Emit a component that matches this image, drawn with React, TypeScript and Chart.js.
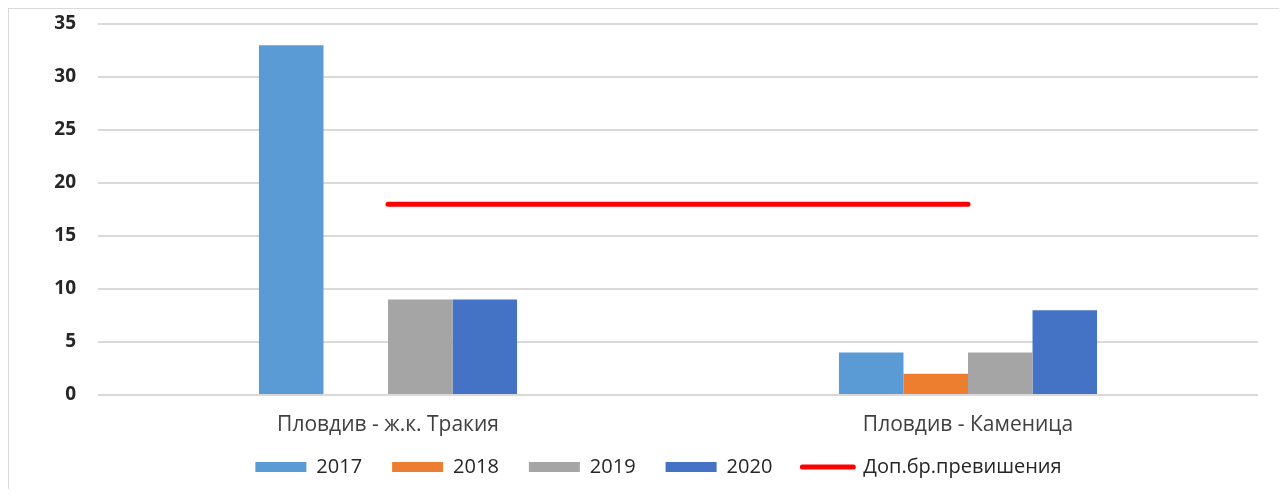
import React, { useEffect, useRef } from "react";
import { Chart, registerables } from "chart.js";

Chart.register(...registerables);

const categories = ["Пловдив - ж.к. Тракия", "Пловдив - Каменица"];
const seriesLabels = ["2017", "2018", "2019", "2020"];
const values2017 = [33, 4];
const values2018 = [null, 2];
const values2019 = [9, 4];
const values2020 = [9, 8];
const limitLabel = "Доп.бр.превишения";
const limitValues = [18, 18];
const yMin = 0;
const yMax = 35;
const yStep = 5;

const barColors = ["#5B9BD5", "#ED7D31", "#A5A5A5", "#4472C4"];
const lineColor = "#FF0000";

const legendShift = {
  id: "legendShift",
  afterLayout(chart: any) {
    const lg = chart.legend;
    if (!lg) return;
    lg.top -= 28;
    lg.bottom -= 28;
    lg.left += 25;
    lg.right += 25;
  },
};

export default function App() {
  const ref = useRef<HTMLCanvasElement | null>(null);

  useEffect(() => {
    document.body.style.overflow = "hidden";
    const canvas = ref.current;
    if (!canvas) return;
    const seriesValues = [values2017, values2018, values2019, values2020];
    const chart = new Chart(canvas, {
      type: "bar",
      data: {
        labels: categories,
        datasets: [
          ...seriesLabels.map((label, i) => ({
            type: "bar" as const,
            label,
            data: seriesValues[i],
            backgroundColor: barColors[i],
            borderWidth: 0,
            categoryPercentage: 0.445,
            barPercentage: 1,
          })),
          {
            type: "line" as const,
            label: limitLabel,
            data: limitValues,
            borderColor: lineColor,
            backgroundColor: lineColor,
            borderWidth: 5,
            borderCapStyle: "round",
            pointRadius: 0,
            pointHoverRadius: 0,
            fill: false,
          },
        ],
      },
      plugins: [legendShift],
      options: {
        responsive: false,
        animation: false,
        events: [],
        layout: { padding: { top: 15, right: 29, bottom: -18, left: 0 } },
        scales: {
          x: {
            grid: { display: false, drawTicks: false },
            border: { display: false },
            ticks: {
              color: "#404040",
              font: { family: "'Open Sans', sans-serif", size: 21 },
              padding: 17.4,
            },
          },
          y: {
            min: yMin,
            max: yMax,
            ticks: {
              stepSize: yStep,
              color: "#262626",
              font: { family: "'Open Sans', sans-serif", size: 19, weight: "bold" },
              padding: 0,
            },
            grid: {
              color: "#d9d9d9",
              lineWidth: 2,
              drawTicks: true,
              tickLength: 22,
              tickColor: "rgba(0,0,0,0)",
            },
            border: { display: false },
            afterFit: (scale: any) => {
              scale.width = 89;
            },
          },
        },
        plugins: {
          tooltip: { enabled: false },
          legend: {
            position: "bottom",
            align: "center",
            maxHeight: 52,
            labels: {
              color: "#262626",
              font: { family: "'Open Sans', sans-serif", size: 20 },
              usePointStyle: true,
              pointStyleWidth: 51,
              boxHeight: 10,
              padding: 30,
              generateLabels: (c: any) => {
                return c.data.datasets.map((ds: any, i: number) => {
                  const isLine = ds.type === "line";
                  return {
                    text: ds.label,
                    fillStyle: isLine ? lineColor : ds.backgroundColor,
                    strokeStyle: isLine ? lineColor : ds.backgroundColor,
                    lineWidth: isLine ? 5 : 0,
                    lineCap: isLine ? "round" : "butt",
                    pointStyle: isLine ? "line" : "rect",
                    fontColor: "#262626",
                    hidden: false,
                    datasetIndex: i,
                  };
                });
              },
            },
          },
        },
      },
    } as any);
    return () => chart.destroy();
  }, []);

  return (
    <div
      style={{
        width: 1278,
        height: 480,
        borderLeft: "1px solid #d9d9d9",
        borderTop: "1px solid #d9d9d9",
        overflow: "hidden",
        background: "#ffffff",
      }}
    >
      <canvas ref={ref} width={1278} height={480} style={{ display: "block" }} />
    </div>
  );
}
